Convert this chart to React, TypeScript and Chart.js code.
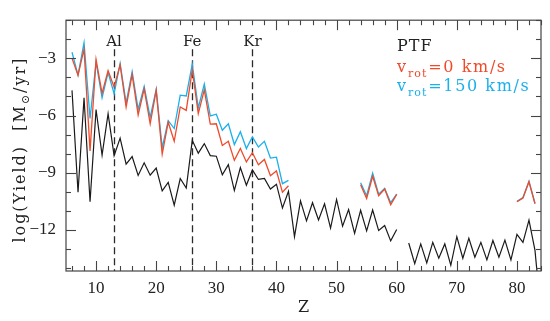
import React, { useEffect, useRef } from "react";
import { Chart, registerables } from "chart.js";

Chart.register(...registerables);

// Atomic number Z (x axis)
const atomicNumber = [
  6, 7, 8, 9, 10, 11, 12, 13, 14, 15, 16, 17, 18, 19, 20, 21, 22, 23, 24, 25,
  26, 27, 28, 29, 30, 31, 32, 33, 34, 35, 36, 37, 38, 39, 40, 41, 42, 43, 44, 45,
  46, 47, 48, 49, 50, 51, 52, 53, 54, 55, 56, 57, 58, 59, 60, 61, 62, 63, 64, 65,
  66, 67, 68, 69, 70, 71, 72, 73, 74, 75, 76, 77, 78, 79, 80, 81, 82, 83, 84,
];

// log(Yield) [Msun/yr], v_rot = 0 km/s (red)
const yieldRot0 = [
  -3.0, -3.88, -2.52, -7.85, -3.07, -4.83, -3.65, -4.5, -3.35, -5.55,
  -3.85, -5.97, -4.6, -6.43, -4.68, -8.02, -6.35, -7.35, -5.55, -5.73,
  -3.6, -5.9, -4.65, -6.45, -6.43, -7.57, -7.35, -8.35, -7.73, -8.43,
  -7.95, -8.58, -8.3, -9.15, -8.9, -10.02, -9.68,
  null, null, null, null, null, null, null, null, null, null, null,
  -9.63, -10.35, -9.18, -10.2, -9.85, -10.68, -10.13,
  null, null, null, null, null, null, null, null, null, null,
  null, null, null, null, null, null, null, null, null,
  -10.52, -10.32, -9.47, -10.63,
  null,
];

// log(Yield), v_rot = 150 km/s (blue)
const yieldRot150 = [
  -2.68, -3.88, -2.18, -6.15, -3.2, -5.07, -3.75, -4.85, -3.27, -5.35,
  -3.7, -5.68, -4.47, -6.1, -4.63, -7.68, -6.27, -6.68, -4.93, -4.97,
  -3.3, -5.6, -4.35, -6.02, -5.93, -6.77, -6.43, -7.52, -6.85, -7.73,
  -7.12, -7.65, -7.35, -8.23, -8.18, -9.57, -9.4,
  null, null, null, null, null, null, null, null, null, null, null,
  -9.52, -10.2, -9.02, -10.12, -9.82, -10.57, -10.12,
  null, null, null, null, null, null, null, null, null, null,
  null, null, null, null, null, null, null, null, null,
  -10.5, -10.3, -9.45, -10.6,
  null,
];

// log(Yield), black reference curve
const yieldBlack = [
  -4.68, -10.02, -5.07, -10.52, -5.68, -8.07, -5.9, -8.1, -7.18, -8.55,
  -8.15, -9.14, -8.48, -9.13, -8.75, -9.95, -9.5, -10.7, -9.3, -9.8,
  -7.3, -7.97, -7.47, -8.1, -8.13, -9.1, -8.57, -9.93, -8.73, -9.65,
  -8.85, -9.35, -9.3, -9.85, -9.6, -10.85, -9.97, -12.35, -10.47, -11.52,
  -10.57, -11.47, -10.63, -11.9, -10.4, -11.8, -10.93, -12.18, -10.97, -12.05,
  -10.95, -12.03, -11.77, -12.57, -11.97, null, -12.68, -13.77, -12.73, -13.73,
  -12.65, -13.48, -12.73, -13.85, -12.35, -13.48, -12.43, -13.43, -12.65, -13.57,
  -12.55, -13.43, -12.53, -13.57, -12.23, -12.65, -11.48, -13.07, -16.4,
];

const xTickLabels = [10, 20, 30, 40, 50, 60, 70, 80];
const yTickLabels = [-12, -9, -6, -3];
const markerZ = [13, 26, 36];
const markerLabels = ["Al", "Fe", "Kr"];

const RED = "#f04a2a";
const BLUE = "#1ab0ec";
const BLACK = "#1a1a1a";
const SERIF = "'DejaVu Serif', serif";

const toPoints = (vals: (number | null)[]) =>
  atomicNumber.map((z, i) => ({ x: z, y: vals[i] as any }));

function drawSpaced(ctx: CanvasRenderingContext2D, text: string, x: number, y: number, spacing: number) {
  (ctx as any).letterSpacing = spacing + "px";
  ctx.fillText(text, x, y);
  const w = ctx.measureText(text).width;
  (ctx as any).letterSpacing = "0px";
  return w;
}

const decorPlugin = {
  id: "decor",
  beforeDatasetsDraw(chart: any) {
    const { ctx, chartArea: a, scales } = chart;
    const xs = scales.x;
    ctx.save();
    ctx.strokeStyle = "#2a2a2a";
    ctx.lineWidth = 1.3;
    ctx.setLineDash([7, 4]);
    markerZ.forEach((z) => {
      const px = Math.round(xs.getPixelForValue(z)) + 0.5;
      ctx.beginPath();
      ctx.moveTo(px, a.top + 29);
      ctx.lineTo(px, a.bottom);
      ctx.stroke();
    });
    ctx.setLineDash([]);
    ctx.font = "15px " + SERIF;
    ctx.fillStyle = "#222";
    ctx.textAlign = "center";
    ctx.textBaseline = "alphabetic";
    markerZ.forEach((z, i) => {
      ctx.fillText(markerLabels[i], xs.getPixelForValue(z), a.top + 25.5);
    });
    ctx.restore();
  },
  afterDatasetsDraw(chart: any) {
    const { ctx, chartArea: a, scales } = chart;
    const xs = scales.x;
    const ys = scales.y;
    ctx.save();
    // frame
    ctx.strokeStyle = "#444";
    ctx.lineWidth = 1.2;
    ctx.strokeRect(a.left, a.top, a.right - a.left, a.bottom - a.top);
    const seg = (x1: number, y1: number, x2: number, y2: number) => {
      ctx.beginPath();
      ctx.moveTo(x1, y1);
      ctx.lineTo(x2, y2);
      ctx.stroke();
    };
    ctx.lineWidth = 1.1;
    for (let z = 6; z <= 84; z += 2) {
      const L = z % 10 === 0 ? 10 : 5;
      const px = Math.round(xs.getPixelForValue(z)) + 0.5;
      seg(px, a.bottom, px, a.bottom - L);
      seg(px, a.top, px, a.top + L);
    }
    for (let v = -14; v <= -1; v++) {
      const L = v % 3 === 0 ? 10 : 5;
      const py = Math.round(ys.getPixelForValue(v)) + 0.5;
      seg(a.left, py, a.left + L, py);
      seg(a.right, py, a.right - L, py);
    }

    // y axis title with subscript sun symbol
    ctx.save();
    ctx.fillStyle = "#222";
    ctx.textBaseline = "alphabetic";
    ctx.textAlign = "left";
    const main1 = "log(Yield)  [M";
    const sub = "\u2299";
    const main2 = "/yr]";
    const bigFont = "16px " + SERIF;
    const smallFont = "11px " + SERIF;
    const sp = 2;
    (ctx as any).letterSpacing = sp + "px";
    ctx.font = bigFont;
    const w1 = ctx.measureText(main1).width;
    const w3 = ctx.measureText(main2).width;
    ctx.font = smallFont;
    const w2 = ctx.measureText(sub).width;
    (ctx as any).letterSpacing = "0px";
    const total = w1 + w2 + w3;
    const cy = (a.top + a.bottom) / 2 + 4;
    ctx.translate(25, cy);
    ctx.rotate(-Math.PI / 2);
    let x = -total / 2;
    ctx.font = bigFont;
    x += drawSpaced(ctx, main1, x, 0, sp);
    ctx.font = smallFont;
    x += drawSpaced(ctx, sub, x, 4, sp);
    ctx.font = bigFont;
    drawSpaced(ctx, main2, x, 0, sp);
    ctx.restore();

    // legend text
    const lx = a.right - 144;
    ctx.textAlign = "left";
    ctx.textBaseline = "alphabetic";
    ctx.font = "16px " + SERIF;
    ctx.fillStyle = "#222";
    drawSpaced(ctx, "PTF", lx, a.top + 30.5, 1);
    const legendRows = [
      { val: "=0 km/s", color: RED, dy: 51.5 },
      { val: "=150 km/s", color: BLUE, dy: 71 },
    ];
    legendRows.forEach((r) => {
      ctx.fillStyle = r.color;
      ctx.font = "16px " + SERIF;
      let xx = lx;
      xx += drawSpaced(ctx, "v", xx, a.top + r.dy, 1);
      ctx.font = "11px " + SERIF;
      xx += drawSpaced(ctx, "rot", xx + 1, a.top + r.dy + 5, 1) + 2;
      ctx.font = "16px " + SERIF;
      drawSpaced(ctx, r.val, xx, a.top + r.dy, 1.6);
    });
    ctx.restore();
  },
};

export default function App() {
  const ref = useRef<HTMLCanvasElement>(null);
  useEffect(() => {
    if (!ref.current) return;
    const chart = new Chart(ref.current, {
      type: "line",
      data: {
        datasets: [
          {
            label: "v_rot=0 km/s",
            data: toPoints(yieldRot0),
            borderColor: RED,
            borderWidth: 1.3,
            pointRadius: 0,
            spanGaps: false,
            tension: 0,
            order: 0,
          },
          {
            label: "v_rot=150 km/s",
            data: toPoints(yieldRot150),
            borderColor: BLUE,
            borderWidth: 1.3,
            pointRadius: 0,
            spanGaps: false,
            tension: 0,
            order: 1,
          },
          {
            label: "PTF",
            data: toPoints(yieldBlack),
            borderColor: BLACK,
            borderWidth: 1.2,
            pointRadius: 0,
            spanGaps: false,
            tension: 0,
            order: 2,
          },
        ],
      },
      options: {
        responsive: false,
        animation: false,
        devicePixelRatio: 1,
        layout: { padding: { top: 8, right: 9, left: 0, bottom: 0 } },
        plugins: {
          legend: { display: false },
          tooltip: { enabled: false },
        },
        scales: {
          x: {
            type: "linear",
            min: 5,
            max: 84,
            grid: { display: false, drawTicks: false },
            border: { display: false },
            afterBuildTicks: (s: any) => {
              s.ticks = xTickLabels.map((v) => ({ value: v }));
            },
            afterFit: (s: any) => {
              s.height = 50;
            },
            ticks: {
              font: { family: "'Liberation Serif', serif", size: 17 },
              color: "#222",
              padding: 7,
              maxRotation: 0,
              autoSkip: false,
            },
            title: {
              display: true,
              text: "Z",
              font: { family: SERIF, size: 16 },
              color: "#222",
              padding: { top: 0, bottom: 4 },
            },
          },
          y: {
            type: "linear",
            min: -14.15,
            max: -1,
            grid: { display: false, drawTicks: false },
            border: { display: false },
            afterBuildTicks: (s: any) => {
              s.ticks = yTickLabels.map((v) => ({ value: v }));
            },
            afterFit: (s: any) => {
              s.width = 66;
            },
            ticks: {
              font: { family: "'Liberation Serif', serif", size: 17 },
              color: "#222",
              padding: 10,
              autoSkip: false,
              callback: (v: any) => (v < 0 ? "\u2212" + Math.abs(v) : String(v)),
            },
          },
        },
      },
      plugins: [decorPlugin],
    } as any);
    return () => chart.destroy();
  }, []);
  return (
    <div style={{ position: "fixed", left: 0, top: 0, width: 550, height: 321, background: "#fff" }}>
      <canvas ref={ref} width={550} height={321} style={{ display: "block", width: 550, height: 321 }} />
    </div>
  );
}
